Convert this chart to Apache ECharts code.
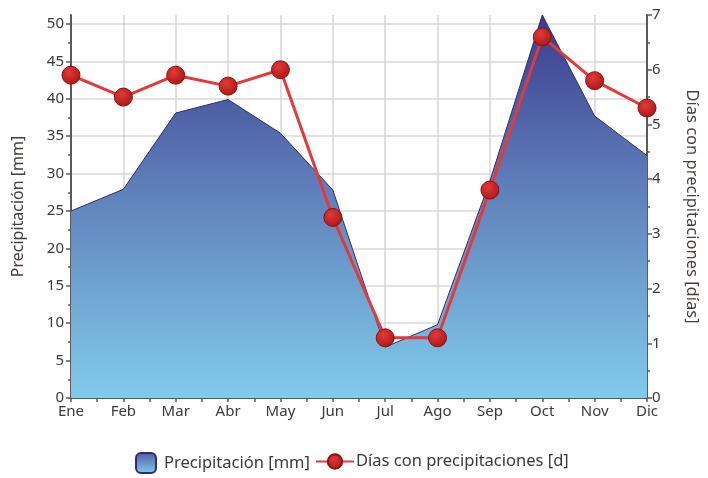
<!DOCTYPE html>
<html>
<head>
<meta charset="utf-8">
<script src="https://cdn.jsdelivr.net/npm/echarts@6/dist/echarts.min.js"></script>
<style>
  html, body { margin: 0; padding: 0; background: #ffffff; }
  #chart { width: 708px; height: 478px; }
</style>
</head>
<body>
<div id="chart"></div>
<script>
// Monthly climate data
const months = ['Ene', 'Feb', 'Mar', 'Abr', 'May', 'Jun', 'Jul', 'Ago', 'Sep', 'Oct', 'Nov', 'Dic'];
const precipitation = [25, 27.9, 38.1, 39.9, 35.4, 27.8, 6.8, 9.8, 29, 51.2, 37.7, 32.4];
const rainyDays = [5.9, 5.5, 5.9, 5.7, 6.0, 3.3, 1.1, 1.1, 3.8, 6.6, 5.8, 5.3];
const precipTicks = [0, 5, 10, 15, 20, 25, 30, 35, 40, 45, 50];
const dayTicks = [0, 1, 2, 3, 4, 5, 6, 7];

const precipName = 'Precipitación [mm]';
const daysName = 'Días con precipitaciones [d]';

const FONT = 'Noto Sans';
const TEXT = '#3a3a3a';
const NAME = '#4a3c3c';
const AXIS = '#5a5a5a';

const precipMax = Math.max(...precipitation);
const plotTop = 15, plotBottom = 80, plotLeft = 71, plotRight = 60;
const plotHeight = 478 - plotTop - plotBottom;
// grid used for ticks/labels/gridlines of the precipitation scale, ending at 50
const tickTop = plotTop + plotHeight * (1 - precipTicks[precipTicks.length - 1] / precipMax);

const chart = echarts.init(document.getElementById('chart'), null, { renderer: 'canvas' });

const option = {
  backgroundColor: '#ffffff',
  textStyle: { fontFamily: FONT },
  animation: false,
  grid: [
    { left: plotLeft, right: plotRight, top: plotTop, bottom: plotBottom },
    { left: plotLeft, right: plotRight, top: tickTop, bottom: plotBottom }
  ],
  legend: [
    {
      data: [precipName],
      left: 135, top: 452, padding: 0,
      itemWidth: 20, itemHeight: 20,
      icon: 'roundRect',
      itemGap: 0,
      textStyle: { fontFamily: FONT, fontSize: 16.5, color: TEXT, padding: [0, 0, 0, 3] }
    },
    {
      data: [daysName],
      left: 315, top: 453, padding: 0,
      itemWidth: 38, itemHeight: 18,
      itemGap: 0,
      textStyle: { fontFamily: FONT, fontSize: 16.5, color: TEXT, padding: [0, 0, 0, -3] }
    }
  ],
  xAxis: [
    {
      type: 'value', gridIndex: 0,
      min: 0, max: months.length - 1, interval: 1,
      axisLine: { show: true, onZero: false, lineStyle: { color: AXIS, width: 2 } },
      axisTick: { show: true, length: 4, lineStyle: { color: AXIS, width: 1.5 } },
      minorTick: { show: true, splitNumber: 2, length: 4, lineStyle: { color: AXIS, width: 1.5 } },
      axisLabel: {
        fontFamily: FONT, fontSize: 15, color: TEXT, margin: 6,
        formatter: v => months[Math.round(v)] || ''
      },
      splitLine: { show: true, lineStyle: { color: '#d6d6d6', width: 1.5 } }
    },
    {
      type: 'value', gridIndex: 1, show: false,
      min: 0, max: months.length - 1
    }
  ],
  yAxis: [
    {
      // precipitation scale spanning the full plot height
      type: 'value', gridIndex: 0, position: 'left',
      min: 0, max: precipMax,
      name: precipName, nameLocation: 'middle', nameRotate: 90, nameGap: 45,
      nameTextStyle: { fontFamily: FONT, fontSize: 16, color: NAME },
      axisLine: { show: true, onZero: false, lineStyle: { color: AXIS, width: 2 } },
      axisTick: { show: false },
      axisLabel: { show: false },
      splitLine: { show: false }
    },
    {
      type: 'value', gridIndex: 0, position: 'right',
      min: dayTicks[0], max: dayTicks[dayTicks.length - 1], interval: 1,
      name: 'Días con precipitaciones [días]', nameLocation: 'middle', nameRotate: -90, nameGap: 36,
      nameTextStyle: { fontFamily: FONT, fontSize: 16.5, color: NAME },
      axisLine: { show: true, onZero: false, lineStyle: { color: AXIS, width: 2 } },
      axisTick: { show: true, length: 5, lineStyle: { color: AXIS, width: 1.5 } },
      minorTick: { show: true, splitNumber: 2, length: 3, lineStyle: { color: AXIS, width: 1.5 } },
      axisLabel: { fontFamily: FONT, fontSize: 15, color: TEXT, margin: 5 },
      splitLine: { show: false }
    },
    {
      // tick marks, labels and horizontal gridlines for 0–50 mm
      type: 'value', gridIndex: 1, position: 'left',
      min: precipTicks[0], max: precipTicks[precipTicks.length - 1], interval: 5,
      axisLine: { show: false },
      axisTick: { show: true, length: 5, lineStyle: { color: AXIS, width: 1.5 } },
      minorTick: { show: true, splitNumber: 2, length: 3, lineStyle: { color: AXIS, width: 1.5 } },
      axisLabel: { fontFamily: FONT, fontSize: 15, color: TEXT, margin: 7 },
      splitLine: { show: true, lineStyle: { color: '#e2e2e2', width: 2 } }
    }
  ],
  series: [
    {
      name: precipName,
      type: 'line',
      xAxisIndex: 0, yAxisIndex: 0,
      data: precipitation.map((v, i) => [i, v]),
      symbol: 'none',
      lineStyle: { color: '#2b2e68', width: 1 },
      itemStyle: {
        color: new echarts.graphic.LinearGradient(0, 0, 0, 1, [
          { offset: 0, color: '#4f5aa6' },
          { offset: 1, color: '#84c9ea' }
        ]),
        borderColor: '#2b2e68', borderWidth: 1
      },
      areaStyle: {
        opacity: 1,
        color: new echarts.graphic.LinearGradient(0, 0, 0, 1, [
          { offset: 0, color: '#3b3b8c' },
          { offset: 0.45, color: '#5f7fba' },
          { offset: 1, color: '#82cbea' }
        ])
      },
      z: 2
    },
    {
      name: daysName,
      type: 'line',
      xAxisIndex: 0, yAxisIndex: 1,
      data: rainyDays.map((v, i) => [i, v]),
      symbol: 'circle',
      symbolSize: 18,
      lineStyle: { color: '#e3393a', width: 3 },
      itemStyle: {
        color: new echarts.graphic.RadialGradient(0.4, 0.35, 0.7, [
          { offset: 0, color: '#e23a36' },
          { offset: 1, color: '#a81616' }
        ]),
        borderColor: '#8e1212', borderWidth: 1
      },
      z: 3
    }
  ]
};

chart.setOption(option);
</script>
</body>
</html>
